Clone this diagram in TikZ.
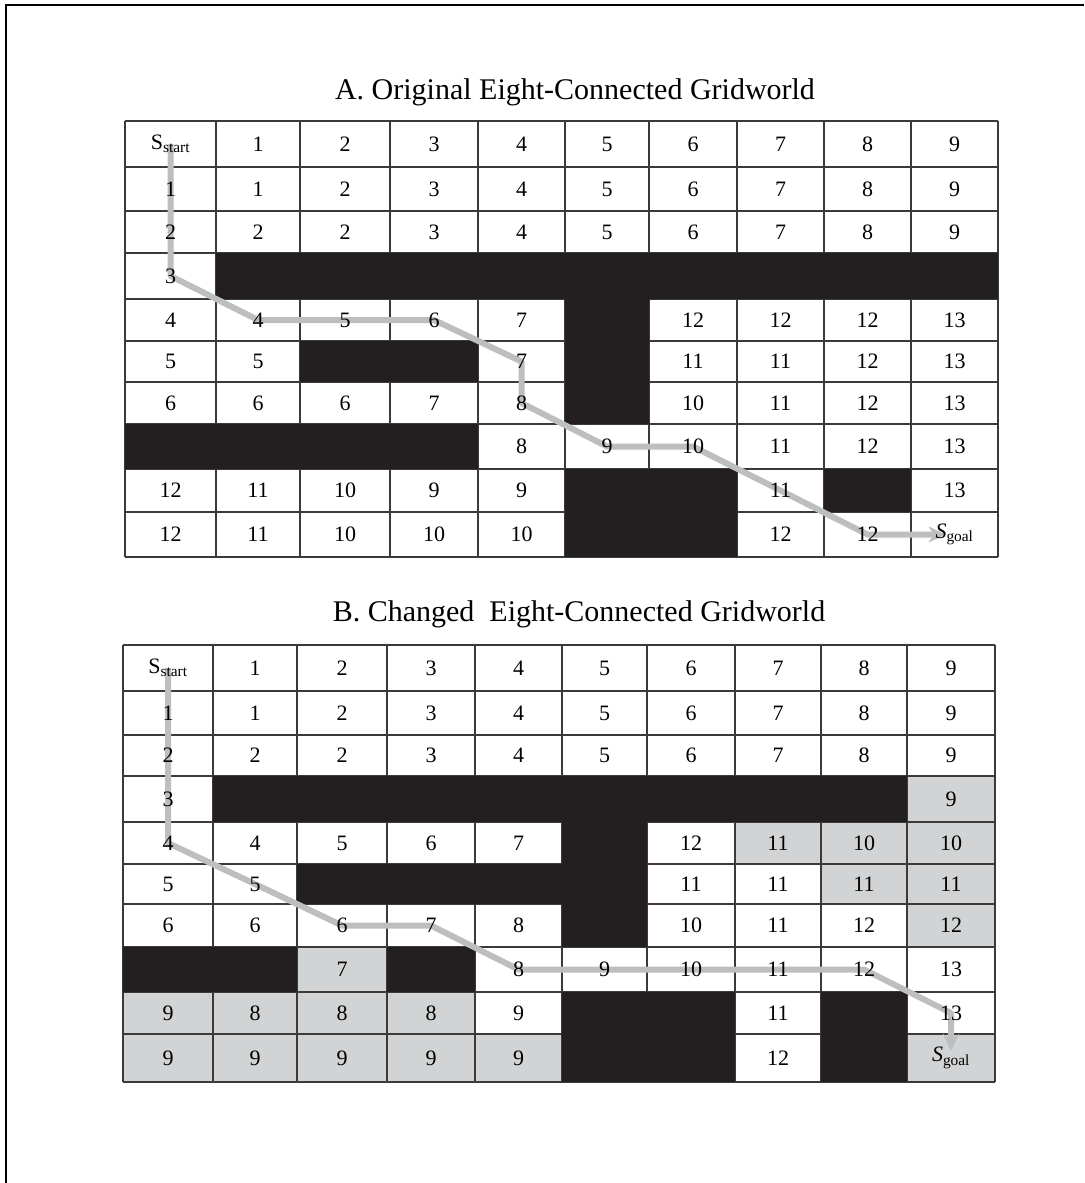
\documentclass[tikz,border=0pt]{standalone}
\usepackage{fontspec}
\setmainfont{Liberation Serif}
\usepackage{xcolor}
\definecolor{cellblack}{HTML}{231F20}
\definecolor{cellgray}{HTML}{D1D3D4}
\definecolor{routegray}{HTML}{BDBEC0}
\definecolor{gridline}{HTML}{3A3A3A}
\usepackage{tikz}
\usetikzlibrary{arrows.meta}
\pgfdeclarelayer{cells}
\pgfdeclarelayer{route}
\pgfsetlayers{cells,route,main}
\newcommand{\sstart}{S\textsubscript{start}}
\newcommand{\sgoal}{\textit{S}\textsubscript{goal}}
\tikzset{
  num/.style={font=\fontsize{22}{22}\selectfont,inner sep=0pt},
  gridtitle/.style={font=\fontsize{30}{30}\selectfont,inner sep=0pt},
  gridrule/.style={gridline,line width=1.6pt},
  route/.style={routegray,line width=6pt,line join=round,-{Stealth[length=17pt,width=16pt]}},
}

\begin{document}
\begin{tikzpicture}[x=1pt,y=-1pt]
    \useasboundingbox (0,0) rectangle (1084,1183);
    \begin{pgfonlayer}{cells}
      \fill[white] (0,0) rectangle (1084,1183);
    \end{pgfonlayer}
    \draw[line width=1.6pt] (6,1183) -- (6,5) -- (1084,5);
    % A. original grid
    \def\colsA{{125,216,300,390,478,565,649,737,824,911,998}}
    \def\rowsA{{121,167,211,253,299,341,382,424,469,512,557}}
    \node[gridtitle] (titleA) at (575,92) {A. Original Eight-Connected Gridworld};
    \foreach \r/\cells in {
        0/{0/\sstart,1/1,2/2,3/3,4/4,5/5,6/6,7/7,8/8,9/9},
        1/{0/1,1/1,2/2,3/3,4/4,5/5,6/6,7/7,8/8,9/9},
        2/{0/2,1/2,2/2,3/3,4/4,5/5,6/6,7/7,8/8,9/9},
        3/{0/3},
        4/{0/4,1/4,2/5,3/6,4/7,6/12,7/12,8/12,9/13},
        5/{0/5,1/5,4/7,6/11,7/11,8/12,9/13},
        6/{0/6,1/6,2/6,3/7,4/8,6/10,7/11,8/12,9/13},
        7/{4/8,5/9,6/10,7/11,8/12,9/13},
        8/{0/12,1/11,2/10,3/9,4/9,7/11,9/13},
        9/{0/12,1/11,2/10,3/10,4/10,7/12,8/12,9/\sgoal}}{
      \foreach \c/\v in \cells {
        \pgfmathtruncatemacro\cn{\c+1}
        \pgfmathtruncatemacro\rn{\r+1}
        \pgfmathsetmacro\xl{\colsA[\c]}
        \pgfmathsetmacro\xr{\colsA[\cn]}
        \pgfmathsetmacro\yt{\rowsA[\r]}
        \pgfmathsetmacro\yb{\rowsA[\rn]}
        \node[num] (A-\r-\c) at ({(\xl+\xr)/2},{(\yt+\yb)/2}) {\v};
      }
    }
    \begin{pgfonlayer}{cells}
      \foreach \i in {0,...,10} {
        \pgfmathsetmacro\gx{\colsA[\i]}
        \pgfmathsetmacro\gy{\rowsA[\i]}
        \draw[gridrule] (\gx,121) -- (\gx,557);
        \draw[gridrule] (125,\gy) -- (998,\gy);
      }
      \foreach \ca/\ra/\cb/\rb in {1/3/9/3,5/4/5/6,2/5/3/5,0/7/3/7,5/8/6/9,8/8/8/8} {
        \pgfmathtruncatemacro\cn{\cb+1}
        \pgfmathtruncatemacro\rn{\rb+1}
        \pgfmathsetmacro\xa{\colsA[\ca]}
        \pgfmathsetmacro\ya{\rowsA[\ra]}
        \pgfmathsetmacro\xb{\colsA[\cn]}
        \pgfmathsetmacro\yb{\rowsA[\rn]}
        \fill[cellblack] (\xa,\ya) rectangle (\xb,\yb);
      }
    \end{pgfonlayer}
    \begin{pgfonlayer}{route}
      \draw[route,shorten >=9pt] (A-0-0.center) -- (A-3-0.center) -- (A-4-1.center)
        -- (A-4-3.center) -- (A-5-4.center) -- (A-6-4.center) -- (A-7-5.center)
        -- (A-7-6.center) -- (A-8-7.center) -- (A-9-8.center) -- (A-9-9.center);
    \end{pgfonlayer}
    % B. changed grid
    \def\colsB{{123,213,297,387,475,562,647,735,821,907,995}}
    \def\rowsB{{645,691,735,776,822,864,904,947,992,1034,1082}}
    \node[gridtitle] (titleB) at (579,614) {B. Changed~~Eight-Connected Gridworld};
    \foreach \r/\cells in {
        0/{0/\sstart,1/1,2/2,3/3,4/4,5/5,6/6,7/7,8/8,9/9},
        1/{0/1,1/1,2/2,3/3,4/4,5/5,6/6,7/7,8/8,9/9},
        2/{0/2,1/2,2/2,3/3,4/4,5/5,6/6,7/7,8/8,9/9},
        3/{0/3,9/9},
        4/{0/4,1/4,2/5,3/6,4/7,6/12,7/11,8/10,9/10},
        5/{0/5,1/5,6/11,7/11,8/11,9/11},
        6/{0/6,1/6,2/6,3/7,4/8,6/10,7/11,8/12,9/12},
        7/{2/7,4/8,5/9,6/10,7/11,8/12,9/13},
        8/{0/9,1/8,2/8,3/8,4/9,7/11,9/13},
        9/{0/9,1/9,2/9,3/9,4/9,7/12,9/\sgoal}}{
      \foreach \c/\v in \cells {
        \pgfmathtruncatemacro\cn{\c+1}
        \pgfmathtruncatemacro\rn{\r+1}
        \pgfmathsetmacro\xl{\colsB[\c]}
        \pgfmathsetmacro\xr{\colsB[\cn]}
        \pgfmathsetmacro\yt{\rowsB[\r]}
        \pgfmathsetmacro\yb{\rowsB[\rn]}
        \node[num] (B-\r-\c) at ({(\xl+\xr)/2},{(\yt+\yb)/2}) {\v};
      }
    }
    \begin{pgfonlayer}{cells}
      \foreach \c/\r in {9/3,7/4,8/4,9/4,8/5,9/5,9/6,2/7,0/8,1/8,2/8,3/8,0/9,1/9,2/9,3/9,4/9,9/9} {
        \pgfmathtruncatemacro\cn{\c+1}
        \pgfmathtruncatemacro\rn{\r+1}
        \pgfmathsetmacro\xa{\colsB[\c]}
        \pgfmathsetmacro\ya{\rowsB[\r]}
        \pgfmathsetmacro\xb{\colsB[\cn]}
        \pgfmathsetmacro\yb{\rowsB[\rn]}
        \fill[cellgray] (\xa,\ya) rectangle (\xb,\yb);
      }
      \foreach \i in {0,...,10} {
        \pgfmathsetmacro\gx{\colsB[\i]}
        \pgfmathsetmacro\gy{\rowsB[\i]}
        \draw[gridrule] (\gx,645) -- (\gx,1082);
        \draw[gridrule] (123,\gy) -- (995,\gy);
      }
      \foreach \ca/\ra/\cb/\rb in {1/3/8/3,5/4/5/6,2/5/5/5,0/7/1/7,3/7/3/7,5/8/6/9,8/8/8/9} {
        \pgfmathtruncatemacro\cn{\cb+1}
        \pgfmathtruncatemacro\rn{\rb+1}
        \pgfmathsetmacro\xa{\colsB[\ca]}
        \pgfmathsetmacro\ya{\rowsB[\ra]}
        \pgfmathsetmacro\xb{\colsB[\cn]}
        \pgfmathsetmacro\yb{\rowsB[\rn]}
        \fill[cellblack] (\xa,\ya) rectangle (\xb,\yb);
      }
    \end{pgfonlayer}
    \begin{pgfonlayer}{route}
      \draw[route,shorten >=7pt] (B-0-0.center) -- (B-4-0.center) -- (B-5-1.center)
        -- (B-6-2.center) -- (B-6-3.center) -- (B-7-4.center) -- (B-7-8.center)
        -- (B-8-9.center) -- (B-9-9.center);
    \end{pgfonlayer}
  \end{tikzpicture}
\end{document}
